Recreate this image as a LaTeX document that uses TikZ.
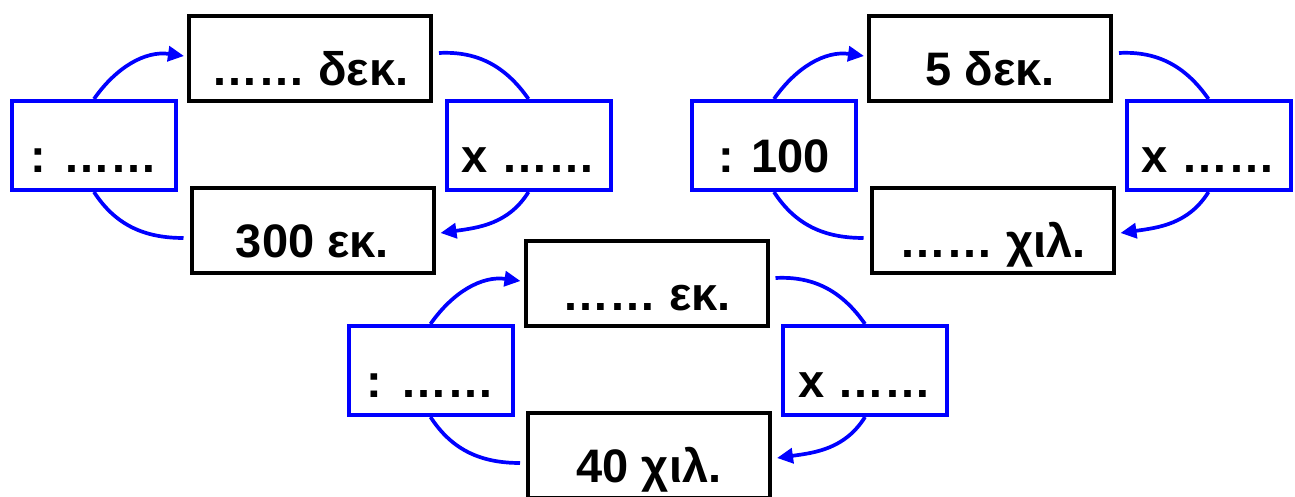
\documentclass[tikz,border=0pt]{standalone}
\usepackage{fontspec}
\setmainfont{Liberation Sans}
\usetikzlibrary{arrows.meta}
\definecolor{pureblue}{RGB}{0,0,255}
\tikzset{
  boxbase/.style={rectangle, inner sep=0pt, text height=54pt, text depth=0pt,
    font=\bfseries\fontsize{47}{50}\selectfont, fill=white},
  bluebox/.style={boxbase, draw=pureblue, line width=4pt, minimum width=164pt, minimum height=89pt},
  blackbox/.style={boxbase, draw=black, line width=4pt, minimum width=242pt, minimum height=85pt},
  link/.style={draw=pureblue, line width=3.7pt},
  linkarrow/.style={link, -{Triangle[length=16pt,width=15pt]}}
}
\newcommand\mycycle[6]{%
  \begin{scope}[shift={#1}]
    \node[bluebox]  (#2L) at (94,351.5)  {#3};
    \node[blackbox] (#2T) at (310,438)   {#4};
    \node[bluebox]  (#2R) at (528.5,351.5) {#5};
    \node[blackbox] (#2B) at (312.5,266.5) {#6};
    \draw[linkarrow] (#2L.north) to[out=55,in=172] ([xshift=-3pt,yshift=3pt]#2T.west);
    \draw[link] ([xshift=6pt,yshift=6pt]#2T.east) to[out=3,in=125] (#2R.north);
    \draw[linkarrow] (#2R.south) to[out=-122,in=8] ([xshift=5pt,yshift=-2.5pt]#2B.east);
    \draw[link] ([xshift=-6pt,yshift=-7.5pt]#2B.west) to[out=180,in=-57] (#2L.south);
  \end{scope}}
\begin{document}
\begin{tikzpicture}[x=1pt,y=1pt]
  \useasboundingbox (0,0) rectangle (1295,497);
  \mycycle{(0,0)}{a}{: ……}{…… δεκ.}{x ……}{300 εκ.}
  \mycycle{(680,0)}{b}{: 100}{5 δεκ.}{x ……}{…… χιλ.}
  \mycycle{(336.5,-225)}{c}{: ……}{…… εκ.}{x ……}{40 χιλ.}
\end{tikzpicture}
\end{document}
